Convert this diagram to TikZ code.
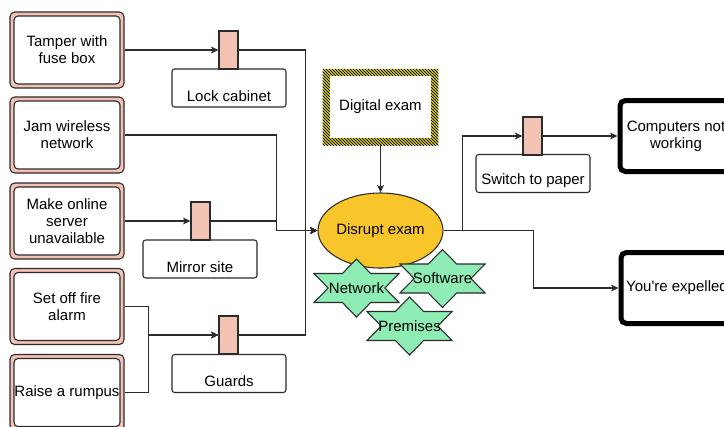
\documentclass[tikz,border=0pt]{standalone}
\usepackage{fontspec}
\setmainfont{Liberation Sans}
\newfontfamily\nolig{Liberation Sans}[Ligatures=ResetAll,Kerning=On]
\usetikzlibrary{arrows.meta,shapes.geometric}
\definecolor{pk}{HTML}{F2C2B4}
\definecolor{bd}{HTML}{2B2B2B}
\definecolor{yl}{HTML}{F8C62A}
\definecolor{gr}{HTML}{8EEDB4}
\definecolor{hy}{HTML}{FFF200}
\newcommand\hexstar[4]{%
  \filldraw[starsty, shift={(#1,#2)}] (0,-29) -- (14.17,-14.5) -- (42.5,-14.5) -- (28.33,0) -- (42.5,14.5) -- (14.17,14.5) -- (0,29) -- (-14.17,14.5) -- (-42.5,14.5) -- (-28.33,0) -- (-42.5,-14.5) -- (-14.17,-14.5) -- cycle;
  \node[inner sep=0] (#3) at (#1,#2) {#4};}
\begin{document}
\begin{tikzpicture}[x=0.75pt,y=-0.75pt,
  font=\fontsize{11.25}{12.75}\selectfont,
  outerbox/.style={draw=bd, fill=pk, rounded corners=3.5pt, line width=0.8pt, minimum width=85.5pt, minimum height=57pt, inner sep=0},
  innerbox/.style={draw=bd, fill=white, rounded corners=3pt, line width=0.8pt, minimum width=79.5pt, minimum height=51pt, inner sep=0, align=center},
  pinkbar/.style={draw=bd, fill=pk, line width=0.8pt, minimum width=14.25pt, minimum height=28.5pt, inner sep=0},
  labbox/.style={draw=bd, fill=white, rounded corners=2pt, line width=0.8pt, minimum width=85.5pt, minimum height=28.5pt, inner sep=0},
  thickbox/.style={draw=black, fill=white, line width=3.75pt, rounded corners=4pt, minimum width=84pt, minimum height=53.25pt, inner sep=0, align=center},
  starsty/.style={draw=bd, fill=gr, line width=0.8pt},
  conn/.style={draw=bd, line width=1pt},
  arr/.style={conn, -{Stealth[length=5.5pt,width=5pt,inset=1.2pt]}}]
\useasboundingbox (0,0) rectangle (724,426);
\clip (0,0) rectangle (724,426);
\fill[white] (0,0) rectangle (724,426);

% left source boxes
\node[outerbox] (tamperO) at (67,50) {};
\node[innerbox] (tamper) at (67,50) {Tamper with\\fuse box};
\node[outerbox] (jamO) at (67,135) {};
\node[innerbox] (jam) at (67,135) {Jam wireless\\network};
\node[outerbox] (serverO) at (67,221) {};
\node[innerbox] (server) at (67,221) {Make online\\server\\unavailable};
\node[outerbox] (fireO) at (67,306.5) {};
\node[innerbox] (fire) at (67,306.5) {Set off fire\\alarm};
\node[outerbox] (rumpusO) at (67,392.5) {};
\node[innerbox] (rumpus) at (67,392.5) {Raise a rumpus};

% barriers
\node[labbox] (lockB) at (229,88) {};
\node (lockT) at (229,96) {Lock cabinet};
\node[pinkbar] (lockP) at (228.5,50) {};
\node[labbox] (mirrorB) at (200,259) {};
\node (mirrorT) at (200,267) {Mirror site};
\node[pinkbar] (mirrorP) at (200.5,221) {};
\node[labbox] (guardsB) at (229,373.5) {};
\node (guardsT) at (229,381) {Guards};
\node[pinkbar] (guardsP) at (228.5,335) {};
\node[labbox] (switchB) at (533,173.5) {};
\node (switchT) at (533,181) {Switch to paper};
\node[pinkbar] (switchP) at (532.5,136) {};

% digital exam (hazard box)
\node[minimum width=86.25pt, minimum height=57pt, inner sep=0] (digital) at (380.5,107) {};
\fill[hy] (digital.north west) rectangle (digital.south east);
\begin{scope}
\clip (digital.north west) rectangle (digital.south east);
\foreach \t in {-82,-79,...,440} \draw[black, line width=0.6pt] (\t,69) -- ++(78,78);
\end{scope}
\node[fill=white, minimum width=75.75pt, minimum height=46.5pt, inner sep=0] (digitalT) at (380.5,107) {Digital exam};

% central event
\node[ellipse, draw=bd, fill=yl, line width=0.8pt, minimum width=86.25pt, minimum height=56.25pt, inner sep=0] (disrupt) at (380.5,230.5) {\raisebox{-1pt}{Disrupt exam}};

% consequences
\node[thickbox] (computers) at (676,136) {Computers not\\working};
\node[thickbox] (expelled) at (677,288) {{\nolig You're expelled}};

% connectors
\draw[arr] (tamperO.east) -- (lockP.west);
\draw[arr] (lockP.east) -- ++(67,0) |- (disrupt.west);
\draw[arr] (jamO.east) -- ++(152,0) |- (disrupt.west);
\draw[arr] (serverO.east) -- (mirrorP.west);
\draw[arr] (mirrorP.east) -- ++(66,0) |- (disrupt.west);
\draw[arr] (fireO.east) -- ++(24,0) |- (guardsP.west);
\draw[arr] (rumpusO.east) -- ++(24,0) |- (guardsP.west);
\draw[arr] (guardsP.east) -- ++(67,0) |- (disrupt.west);
\draw[arr] (digital.south) -- (disrupt.north);
\draw[arr] (disrupt.east) -- ++(19,0) |- (switchP.west);
\draw[arr] (switchP.east) -- (computers.west);
\draw[arr] (disrupt.east) -- ++(90,0) |- (expelled.west);

% threat stars
\hexstar{356.5}{288}{network}{Network}
\hexstar{442.5}{278.5}{software}{Software}
\hexstar{409.5}{326}{premises}{Premises}
\end{tikzpicture}
\end{document}
